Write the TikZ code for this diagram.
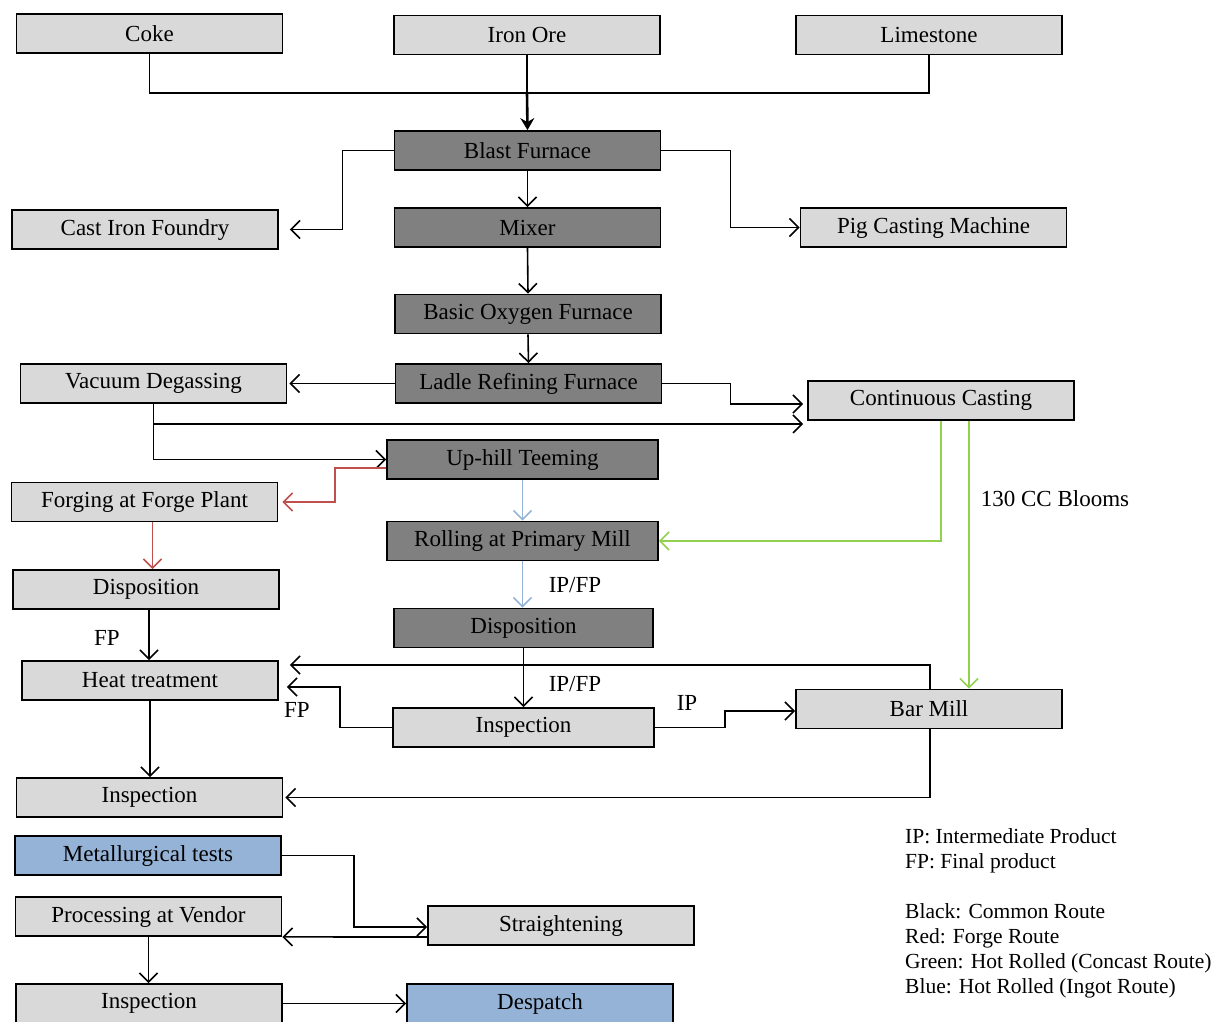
\documentclass[tikz,border=0pt]{standalone}
\usepackage{fontspec}
\setmainfont{Liberation Serif}
\usetikzlibrary{arrows.meta}
\definecolor{grayfill}{RGB}{217,217,217}
\definecolor{darkfill}{RGB}{128,128,128}
\definecolor{bluefill}{RGB}{149,179,215}
\definecolor{forgered}{RGB}{192,80,77}
\definecolor{ingotblue}{RGB}{149,179,215}
\definecolor{concastgreen}{RGB}{146,208,80}
\begin{document}
\begin{tikzpicture}[x=1pt,y=-1pt,
    every node/.style={font=\fontsize{23}{25}\selectfont},
    box/.style={draw, line width=1.8pt, fill=grayfill, minimum width=266pt, minimum height=39pt, inner sep=0pt},
    dbox/.style={box, fill=darkfill},
    bbox/.style={box, fill=bluefill},
    arr/.style={line width=1.6pt, -{Straight Barb[length=9pt,width=18pt,line width=1.6pt]}},
    redarr/.style={arr, draw=forgered},
    bluearr/.style={arr, draw=ingotblue},
    greenarr/.style={arr, draw=concastgreen},
    lbl/.style={inner sep=0pt}]
    \useasboundingbox (0,0) rectangle (1229,1021);
    \node [box] (coke) at (149.5,33.5) {Coke};
    \node [box] (ore) at (527,35) {Iron Ore};
    \node [box] (lime) at (929,35) {Limestone};
    \node [dbox] (bf) at (527.5,150.5) {Blast Furnace};
    \node [box] (cif) at (145,229.5) {Cast Iron Foundry};
    \node [dbox] (mixer) at (527.5,227.5) {Mixer};
    \node [box] (pcm) at (933.5,227.5) {Pig Casting Machine};
    \node [dbox] (bof) at (528,314) {Basic Oxygen Furnace};
    \node [dbox] (lrf) at (528.5,383.5) {Ladle Refining Furnace};
    \node [box] (vd) at (153.5,383.5) {Vacuum Degassing};
    \node [box] (cc) at (941,400.5) {Continuous Casting};
    \node [dbox, minimum width=271pt] (uht) at (522.5,459.5) {Up-hill Teeming};
    \node [box] (forge) at (144.5,502) {Forging at Forge Plant};
    \node [dbox, minimum width=271pt] (rpm) at (522.5,541) {Rolling at Primary Mill};
    \node [box] (displ) at (146,589.5) {Disposition};
    \node [dbox, minimum width=259pt] (dispm) at (523.5,628) {Disposition};
    \node [box, minimum width=256pt] (heat) at (150,680.5) {Heat treatment};
    \node [box, minimum width=261pt] (inspm) at (523.5,727.5) {Inspection};
    \node [box] (bar) at (929,709) {Bar Mill};
    \node [box] (inspl) at (149.5,797.5) {Inspection};
    \node [bbox] (met) at (148,855.5) {Metallurgical tests};
    \node [box] (proc) at (148.5,916.5) {Processing at Vendor};
    \node [box] (straight) at (561,925.5) {Straightening};
    \node [box] (inspb) at (149,1003.5) {Inspection};
    \node [bbox] (desp) at (540,1003.5) {Despatch};
    \coordinate (join) at (527,93);
    \draw [line width=1.6pt] (coke.south) |- (join);
    \draw [line width=1.6pt] (lime.south) |- (join);
    \draw [line width=1.6pt] (ore.south) -- (join);
    \draw [line width=2.6pt, -{Stealth[length=12pt,width=14pt,inset=4pt]}] (join) -- (bf.north);
    \draw [arr] (bf.west) -- ++(-51,0) |- ([xshift=11pt]cif.east);
    \draw [arr] (bf.south) -- (mixer.north);
    \draw [arr] (bf.east) -- ++(69,0) |- (pcm.west);
    \draw [arr] (mixer.south) -- (bof.north);
    \draw [arr] (bof.south) -- (lrf.north);
    \draw [arr] (lrf.west) -- ([xshift=2pt]vd.east);
    \draw [arr] (lrf.east) -- ++(68,0) |- ([xshift=-4pt,yshift=-3.5pt]cc.west);
    \coordinate (ccin) at ([xshift=-4pt,yshift=-3pt]cc.south west);
    \draw [arr] (vd.south |- ccin) -- (ccin);
    \draw [arr] (vd.south) |- (uht.west);
    \draw [redarr] ([yshift=-8.5pt]uht.west) -- ++(-51,0) |- ([xshift=4pt]forge.east);
    \draw [redarr] ([xshift=8pt]forge.south) -- ([xshift=8pt]forge.south |- displ.north);
    \draw [bluearr] (uht.south) -- (rpm.north);
    \draw [bluearr] (rpm.south) -- (dispm.north -| rpm.south);
    \node [lbl] (lblipfp) at (575,585) {IP/FP};
    \draw [greenarr] (cc.south) |- (rpm.east);
    \draw [greenarr] ([xshift=28pt]cc.south) -- ([xshift=28pt]cc.south |- bar.north);
    \node [lbl] (lblblooms) at (1055,499) {130 CC Blooms};
    \draw [arr] ([xshift=3pt]displ.south) -- ([xshift=3pt]displ.south |- heat.north);
    \node [lbl] (lblfpa) at (107,638) {FP};
    \draw [arr] (dispm.south) -- (inspm.north);
    \node [lbl] (lblipfpb) at (575,684) {IP/FP};
    \draw [arr] (inspm.west) -- ++(-52,0) |- ([xshift=8pt,yshift=-6.5pt]heat.east);
    \node [lbl] (lblfpb) at (297,710) {FP};
    \draw [arr] (inspm.east) -- ++(70,0) |- ([yshift=-2pt]bar.west);
    \node [lbl] (lblip) at (687,703) {IP};
    \draw [arr] ([xshift=1pt]bar.north) |- ([xshift=11pt,yshift=15.5pt]heat.east);
    \draw [arr] ([xshift=1pt]bar.south) |- ([xshift=2pt]inspl.east);
    \draw [arr] (heat.south) -- (inspl.north -| heat.south);
    \draw [arr] (met.east) -- ++(72,0) |- ([yshift=-1.5pt]straight.west);
    \draw [arr] ([yshift=-11.5pt]straight.west) -- (proc.south east);
    \draw [arr] (proc.south) -- (inspb.north -| proc.south);
    \draw [arr] (inspb.east) -- (desp.west);
    \node [lbl, anchor=north west, align=left, font=\fontsize{21.5}{25}\selectfont] (legend) at (905,828) {IP: Intermediate Product\\FP: Final product\\[25pt]Black: Common Route\\Red: Forge Route\\Green: Hot Rolled (Concast Route)\\Blue: Hot Rolled (Ingot Route)};
\end{tikzpicture}
\end{document}
